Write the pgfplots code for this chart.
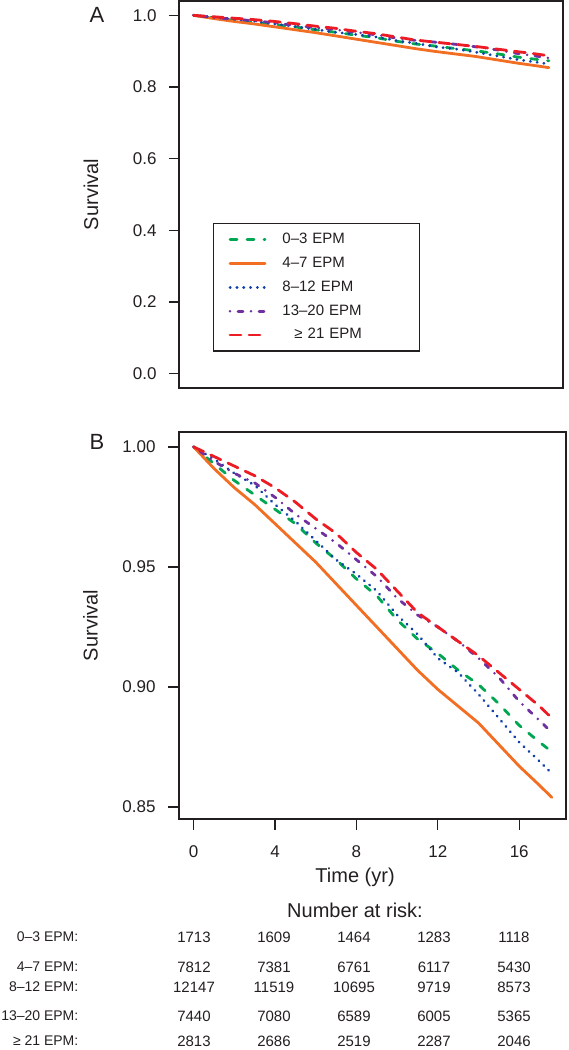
\documentclass[border=0pt]{standalone}
\usepackage{pgfplots}
\usepackage{pgfplotstable}
\pgfplotsset{compat=1.18}
\usepackage{fontspec}
\setmainfont{Liberation Sans}
\definecolor{cgreen}{RGB}{0,166,81}
\definecolor{corange}{RGB}{241,110,34}
\definecolor{cblue}{RGB}{16,64,170}
\definecolor{cpurple}{RGB}{112,48,160}
\definecolor{cred}{RGB}{237,28,36}
\definecolor{ctext}{RGB}{35,31,32}

\pgfplotstableread{
t    g     o     b     p     r
0    1.000 1.000 1.000 1.000 1.000
1    0.993 0.991 0.995 0.994 0.996
2    0.986 0.983 0.989 0.989 0.992
3    0.980 0.976 0.984 0.985 0.988
4    0.974 0.968 0.976 0.979 0.983
5    0.968 0.960 0.969 0.972 0.977
6    0.960 0.952 0.961 0.966 0.970
7    0.953 0.943 0.953 0.960 0.964
8    0.945 0.934 0.947 0.953 0.956
9    0.938 0.925 0.940 0.946 0.949
10   0.928 0.916 0.930 0.937 0.940
11   0.920 0.907 0.922 0.930 0.931
12   0.914 0.899 0.912 0.925 0.925
13   0.907 0.892 0.906 0.919 0.919
14   0.901 0.885 0.897 0.912 0.913
15   0.893 0.876 0.887 0.904 0.906
16   0.884 0.867 0.877 0.894 0.899
17   0.877 0.859 0.869 0.886 0.892
17.6 0.873 0.854 0.864 0.881 0.887
}\surv

\pgfplotsset{
  sg/.style={cgreen, line width=2.8pt, line cap=round, dash pattern=on 7pt off 10pt},
  so/.style={corange, line width=2.8pt, line cap=round, solid},
  sb/.style={cblue, line width=2.8pt, line cap=round, dash pattern=on 0.3pt off 6.5pt},
  sp/.style={cpurple, line width=2.8pt, line cap=round, dash pattern=on 0pt off 8pt on 5pt off 8pt},
  sr/.style={cred, line width=2.8pt, line cap=round, dash pattern=on 11pt off 8pt},
  rstyle/.style={
    scale only axis,
    axis line style={line width=1.3pt, ctext},
    tick style={line width=1.3pt, ctext},
    tick align=outside, major tick length=10pt,
    ytick pos=left, xtick pos=bottom,
    tick label style={font=\fontsize{17}{17}\selectfont, color=ctext},
    yticklabel style={xshift=-9pt},
    /pgf/number format/assume math mode=true,
    every axis y label/.style={at={(axis description cs:-0.229,0.5)}, rotate=90, anchor=center,
       font=\fontsize{20}{20}\selectfont, color=ctext},
    xmin=-0.72, xmax=18.3,
    legend image code/.code={\draw[#1] (0pt,0pt) -- (35pt,0pt);},
  }
}

\begin{document}
\begin{tikzpicture}[x=1pt,y=1pt]
\path[use as bounding box] (0,0) rectangle (568,-1050);

% Panel A
\begin{axis}[rstyle, at={(179pt,-1pt)}, anchor=north west,
  width=384pt, height=387pt,
  ymin=-0.04, ymax=1.04, xtick=\empty,
  ytick={0,0.2,0.4,0.6,0.8,1.0},
  yticklabel style={/pgf/number format/.cd, fixed, fixed zerofill, precision=1},
  ylabel={Survival},
  legend style={at={(axis description cs:0.0885,0.426)}, anchor=north west,
    draw=ctext, line width=1.3pt, inner xsep=15pt, inner ysep=9pt,
    font=\fontsize{15}{15}\selectfont, text=ctext,
    row sep=9.8pt, column sep=16pt,
    nodes={inner sep=0pt, text height=11pt, text depth=3pt, text width=122pt, align=left}},
  legend cell align=left,
]
\addplot[sg] table[x=t,y=g] {\surv};
\addplot[so] table[x=t,y=o] {\surv};
\addplot[sb] table[x=t,y=b] {\surv};
\addplot[sp] table[x=t,y=p] {\surv};
\addplot[sr] table[x=t,y=r] {\surv};
\legend{0–3 EPM, 4–7 EPM, 8–12 EPM, 13–20 EPM, \hspace{12pt}≥ 21 EPM}
\end{axis}

% Panel B
\begin{axis}[rstyle, at={(179pt,-432pt)}, anchor=north west,
  width=387pt, height=387pt,
  ymin=0.845, ymax=1.0062,
  ytick={0.85,0.90,0.95,1.00},
  yticklabel style={/pgf/number format/.cd, fixed, fixed zerofill, precision=2},
  xtick={0,4,8,12,16}, major tick length=11pt,
  xticklabel style={yshift=-12.5pt},
  ylabel={Survival},
  xlabel={Time (yr)},
  every axis x label/.style={at={(axis description cs:0.455,-0.150)}, anchor=center,
     font=\fontsize{20}{20}\selectfont, color=ctext},
]
\addplot[sg] table[x=t,y=g] {\surv};
\addplot[so] table[x=t,y=o] {\surv};
\addplot[sb] table[x=t,y=b] {\surv};
\addplot[sp] table[x=t,y=p] {\surv};
\addplot[sr] table[x=t,y=r] {\surv};
\end{axis}

% panel letters
\node[font=\fontsize{22}{22}\selectfont, text=ctext] at (97,-15) {A};
\node[font=\fontsize{22}{22}\selectfont, text=ctext] at (97,-442) {B};

% number at risk table
\node[font=\fontsize{20}{20}\selectfont, text=ctext] at (355,-910) {Number at risk:};
\begin{scope}[every node/.style={font=\fontsize{15}{15}\selectfont, text=ctext, inner sep=1pt}]
\begin{scope}[every node/.append style={font=\fontsize{14}{14}\selectfont}]
\node[anchor=east] at (79.5,-937) {0–3 EPM:};
\node[anchor=east] at (79.5,-967) {4–7 EPM:};
\node[anchor=east] at (79.5,-987) {8–12 EPM:};
\node[anchor=east] at (79.5,-1016) {13–20 EPM:};
\node[anchor=east] at (79.5,-1041) {≥ 21 EPM:};
\end{scope}
\foreach \x/\a/\b/\c/\d/\e in {194/1713/7812/12147/7440/2813, 274/1609/7381/11519/7080/2686, 354/1464/6761/10695/6589/2519, 434/1283/6117/9719/6005/2287, 514/1118/5430/8573/5365/2046}{
  \node at (\x,-937) {\a};
  \node at (\x,-967) {\b};
  \node at (\x,-987) {\c};
  \node at (\x,-1016) {\d};
  \node at (\x,-1041) {\e};
}
\end{scope}
\end{tikzpicture}
\end{document}
